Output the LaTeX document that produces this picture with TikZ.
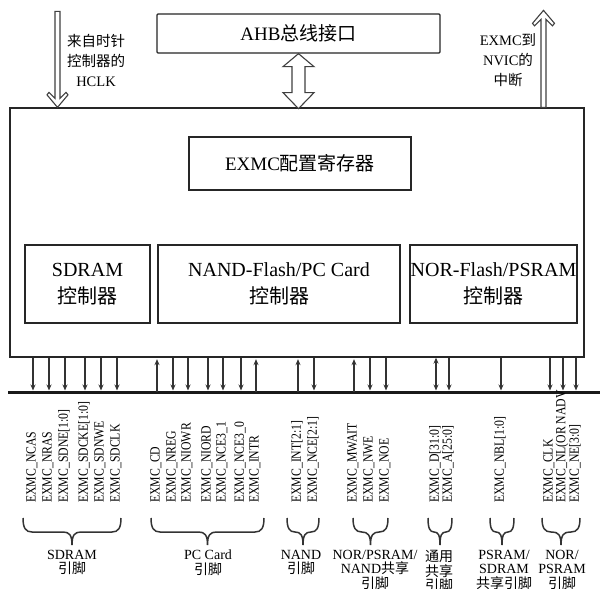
\documentclass[tikz,border=0pt]{standalone}
\usepackage{fontspec}
\setmainfont{Liberation Serif}
\newfontfamily\zhfont{Noto Sans CJK SC}
\newfontfamily\condfont{Liberation Serif}[FakeStretch=0.84]
\newcommand\zh[1]{{\zhfont #1}}
\usetikzlibrary{arrows.meta,calc}
\begin{document}
\begin{tikzpicture}[x=1pt,y=-1pt,
  box/.style={draw=black!85, line width=1.3pt, inner sep=0pt, align=center},
  pin/.style={draw=black!80, line width=1.2pt},
  dn/.style={pin, -{Stealth[length=6pt,width=5pt]}, shorten >=1.5pt},
  up/.style={pin, {Stealth[length=6pt,width=5pt]}-, shorten <=1.5pt},
  both/.style={pin, {Stealth[length=6pt,width=5pt]}-{Stealth[length=6pt,width=5pt]}, shorten >=1.5pt},
  hollow/.style={draw=black!75, line width=1.1pt, line join=miter, fill=white},
  lab/.style={rotate=90, anchor=west, font=\condfont\fontsize{14}{14}\selectfont, inner sep=0pt},
  grp/.style={font=\fontsize{14}{14.5}\selectfont, align=center, anchor=north, inner sep=0pt},
  side/.style={font=\fontsize{14.5}{20}\selectfont, align=center, inner sep=0pt},
  brc/.style={draw=black!80, line width=1.5pt}
]
\useasboundingbox (0,0) rectangle (600,589);
\fill[white] (0,0) rectangle (600,589);

% main blocks
\node[box, minimum width=574pt, minimum height=249pt] (exmc) at (297,232.5) {};
\node[box, rounded corners=1pt, minimum width=283pt, minimum height=39pt,
      font=\fontsize{19}{19}\selectfont] (ahb) at (298.5,33.5) {AHB\zh{总线接口}};
\node[box, minimum width=222pt, minimum height=53pt,
      font=\fontsize{19}{19}\selectfont] (cfg) at (300,163.5) {EXMC\zh{配置寄存器}};
\node[box, minimum width=125pt, minimum height=78pt,
      font=\fontsize{20}{27}\selectfont] (sdram) at (87.5,284) {SDRAM\\\zh{控制器}};
\node[box, minimum width=242pt, minimum height=78pt,
      font=\fontsize{20}{27}\selectfont] (nand) at (279,284) {NAND-Flash/PC Card\\\zh{控制器}};
\node[box, minimum width=167pt, minimum height=78pt,
      font=\fontsize{20}{27}\selectfont] (nor) at (493.5,284) {NOR-Flash/PSRAM\\\zh{控制器}};

% side texts
\node[side] (clktxt) at (96,60) {\zh{来自时针}\\\zh{控制器的}\\HCLK};
\node[side] (nvtxt) at (508,60) {EXMC\zh{到}\\NVIC\zh{的}\\\zh{中断}};

% hollow arrows
\begin{scope}[shift={(exmc.north -| 57.5,0)}]
  \draw[hollow] (-2.5,-96) -- (-2.5,-9) -- (-8.5,-15) -- (-10.5,-12.5) -- (0,0)
     -- (10.5,-12.5) -- (8.5,-15) -- (2.5,-9) -- (2.5,-96) -- cycle;
\end{scope}
\begin{scope}[shift={(exmc.north -| 543.5,0)}]
  \draw[hollow] (0,-97) -- (11,-84) -- (9,-81.5) -- (2.5,-88) -- (2.5,0)
     -- (-2.5,0) -- (-2.5,-88) -- (-9,-81.5) -- (-11,-84) -- cycle;
\end{scope}
\begin{scope}[shift={(ahb.south)}]
  \draw[hollow] (0,0) -- (15.5,13) -- (6.5,13) -- (6.5,39) -- (15.5,39) -- (0,55)
     -- (-15.5,39) -- (-6.5,39) -- (-6.5,13) -- (-15.5,13) -- cycle;
\end{scope}

% bus
\coordinate (busL) at (8,392);
\coordinate (busR) at (600,392);
\draw[line width=3pt, black!90] (busL) -- (busR);

% pins
\foreach \i/\x/\s/\t in {
  1/33/dn/NCAS, 2/49/dn/NRAS, 3/65/dn/SDNE[1:0], 4/85/dn/SDCKE[1:0],
  5/101/dn/SDNWE, 6/117/dn/SDCLK,
  7/157/up/CD, 8/173/dn/NREG, 9/188/dn/NIOWR, 10/208/dn/NIORD,
  11/223/dn/NCE3\_1, 12/241/dn/NCE3\_0, 13/256/up/INTR,
  14/298/up/INT[2:1], 15/314/dn/NCE[2:1],
  16/354/up/MWAIT, 17/370/dn/NWE, 18/386/dn/NOE,
  19/436/both/D[31:0], 20/449/dn/A[25:0],
  21/501/dn/NBL[1:0],
  22/550/dn/CLK, 23/563/dn/NL(OR NADV, 24/576/dn/NE[3:0]}{
  \coordinate (b\i) at (\x,392);
  \draw[\s] (exmc.south -| b\i) -- (b\i);
  \node[lab] (l\i) at ({\x-1},503) {EXMC\_\t};
}

% braces (opening upward, tip downward)
\foreach \n/\a/\b in {g1/23/121, g2/151/264, g3/287/319, g4/353/388,
                     g5/428/452, g6/490/514, g7/542/580}{
  \pgfmathsetmacro\m{(\a+\b)/2}
  \pgfmathsetmacro\r{min(9,(\b-\a)/4)}
  \coordinate (\n L) at (\a,518);
  \coordinate (\n R) at (\b,518);
  \draw[brc] (\n L) .. controls (\a,528) and ({\a+\r*0.3},532) .. ({\a+\r},532)
     -- ({\m-\r},532) .. controls ({\m-\r*0.3},532) and (\m,535) .. (\m,545)
     .. controls (\m,535) and ({\m+\r*0.3},532) .. ({\m+\r},532)
     -- ({\b-\r},532) .. controls ({\b-\r*0.3},532) and (\b,528) .. (\n R);
}

% group texts
\node[grp] (t1) at (72,550) {SDRAM\\\zh{引脚}};
\node[grp] (t2) at (208,550) {PC Card\\\zh{引脚}};
\node[grp] (t3) at (301,550) {NAND\\\zh{引脚}};
\node[grp] (t4) at (375,550) {NOR/PSRAM/\\NAND\zh{共享}\\\zh{引脚}};
\node[grp] (t5) at (439,550) {\zh{通用}\\\zh{共享}\\\zh{引脚}};
\node[grp] (t6) at (504,550) {PSRAM/\\SDRAM\\\zh{共享引脚}};
\node[grp] (t7) at (562,550) {NOR/\\PSRAM\\\zh{引脚}};
\end{tikzpicture}
\end{document}
